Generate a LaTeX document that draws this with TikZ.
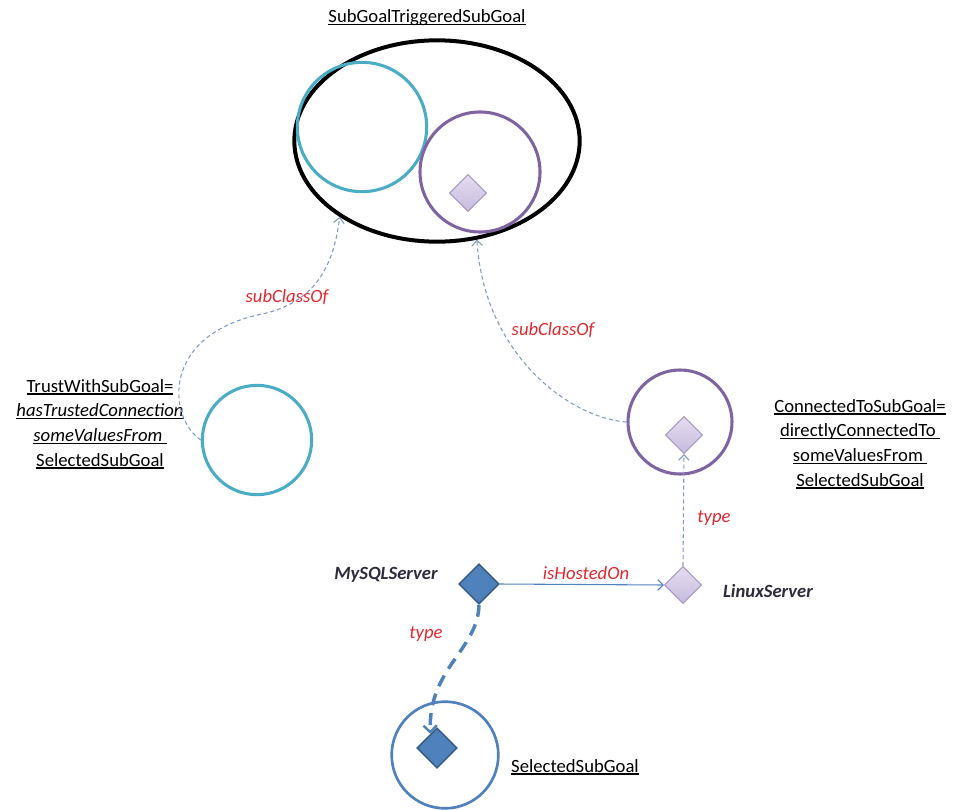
\documentclass[tikz,border=0pt]{standalone}
\usepackage{fontspec}
\setmainfont{Carlito}
\usetikzlibrary{shapes.geometric,arrows.meta}
\definecolor{tealc}{HTML}{4BACC6}
\definecolor{purpc}{HTML}{8064A2}
\definecolor{bluec}{HTML}{4F81BD}
\definecolor{bluedark}{HTML}{385D8A}
\definecolor{lavtop}{HTML}{E4DDF0}
\definecolor{lavbot}{HTML}{C7BADD}
\definecolor{lavline}{HTML}{A898C6}
\definecolor{linkc}{HTML}{7B9CCB}
\definecolor{redlab}{HTML}{E0282E}
\definecolor{namec}{HTML}{2F2B3D}
% underline sitting just under the baseline
\newcommand\ulword[1]{\setbox0\hbox{#1}\rlap{\rule[-0.13em]{\wd0}{0.075em}}\box0}
\tikzset{
  txt/.style={font=\fontsize{14}{18.6}\selectfont, inner sep=0pt, align=center},
  rel/.style={txt, text=redlab, font=\fontsize{14}{18.6}\selectfont\itshape},
  iname/.style={txt, text=namec, font=\fontsize{14}{18.6}\selectfont\bfseries\itshape},
  ring/.style={circle, draw, line width=2.3pt, inner sep=0pt},
  lavdia/.style={diamond, draw=lavline, line width=0.8pt, top color=lavtop, bottom color=lavbot,
                 minimum width=28pt, minimum height=28pt, inner sep=0pt},
  bluedia/.style={diamond, draw=bluedark, line width=1.2pt, fill=bluec,
                  minimum width=30pt, minimum height=30pt, inner sep=0pt},
  thinlink/.style={draw=linkc, line width=0.8pt, dash pattern=on 3pt off 2.2pt,
                   -{Straight Barb[length=4pt,width=8pt,line width=0.8pt]}},
}
\begin{document}
\begin{tikzpicture}[x=0.75pt,y=-0.75pt]
\useasboundingbox (0,0) rectangle (953,810);

% superclass with its two member classes
\node[ellipse, draw=black, line width=3pt, minimum width=214pt, minimum height=151pt, inner sep=0pt] (sup) at (437,141) {};
\node[ring, draw=tealc, minimum size=97pt] (tealA) at (362,127) {};
\node[ring, draw=purpc, minimum size=90pt] (purpA) at (480,172) {};
\node[lavdia] (diaA) at (468,193) {};
\node[txt] (tsup) at (427,18) {\ulword{SubGoalTriggeredSubGoal}};

% TrustWithSubGoal class
\node[ring, draw=tealc, minimum size=82pt] (tealB) at (257,440) {};
\node[txt] (ttrust) at (100,424) {\ulword{TrustWithSubGoal=}\\\ulword{\itshape hasTrustedConnection}\\\ulword{\itshape someValuesFrom }\\\ulword{SelectedSubGoal}};

% ConnectedToSubGoal class
\node[ring, draw=purpc, minimum size=78pt] (purpB) at (680,422) {};
\node[lavdia] (diaB) at (684,435) {};
\node[txt] (tconn) at (860,444) {\ulword{ConnectedToSubGoal=}\\\ulword{directlyConnectedTo }\\\ulword{someValuesFrom }\\\ulword{SelectedSubGoal}};

% individuals
\node[bluedia] (mysql) at (479,584) {};
\node[iname] (tmysql) at (386,575) {MySQLServer};
\node[lavdia] (linux) at (683,585) {};
\node[iname] (tlinux) at (768,591) {LinuxServer};

% SelectedSubGoal class
\node[ring, draw=bluec, line width=2pt, minimum size=80pt] (sel) at (445,755) {};
\node[bluedia] (selD) at (437,748) {};
\node[txt] (tsel) at (575,767) {\ulword{SelectedSubGoal}};

% subClassOf links
\draw[thinlink] (tealB.west) .. controls (168,418) and (160,335) .. (262,314)
  .. controls (318,302) and (334,262) .. (sup.218);
\node[rel] (lsub1) at (287,297) {subClassOf};
\draw[thinlink] (purpB.west) .. controls (570,418) and (484,355) .. (sup.292);
\node[rel] (lsub2) at (553,330) {subClassOf};

% type links
\draw[thinlink] (linux.north) -- (diaB.south);
\node[rel] (ltype1) at (714,518) {type};
\draw[draw=bluec, line width=2.6pt, dash pattern=on 9pt off 6pt,
      -{Straight Barb[length=5pt,width=10pt,line width=1.8pt]}]
  (mysql.south) .. controls (478,650) and (428,668) .. (selD.115);
\node[rel] (ltype2) at (426,634) {type};

% property link
\draw[draw=bluec, line width=0.8pt, -{Straight Barb[length=4pt,width=8pt,line width=0.8pt]}] (mysql.east) -- (linux.west);
\node[rel] (lhost) at (586,573) {isHostedOn};
\end{tikzpicture}
\end{document}
